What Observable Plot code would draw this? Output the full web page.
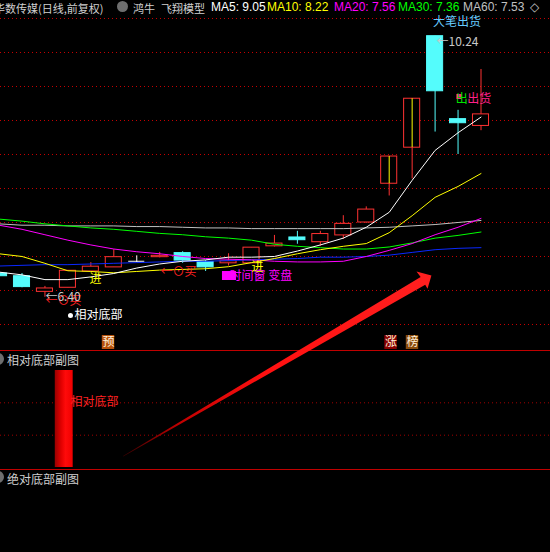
<!DOCTYPE html>
<html><head><meta charset="utf-8">
<script src="https://cdn.jsdelivr.net/npm/d3@7"></script>
<script src="https://cdn.jsdelivr.net/npm/@observablehq/plot@0.6"></script>
<style>
html,body{margin:0;padding:0;background:#000;}
body{width:550px;height:552px;overflow:hidden;position:relative;font-family:"Noto Sans CJK SC","Liberation Sans",sans-serif;}
.abs{position:absolute;white-space:nowrap;}
.hdr{top:0;height:16px;line-height:16px;font-size:11px;}
.hdrL{top:0;height:14px;line-height:14px;font-size:12px;font-family:"Liberation Sans","DejaVu Sans",sans-serif;}
.sep{left:0;width:550px;height:1px;background:#c00000;}
.lbl{font-size:12px;line-height:18px;color:#cfcfcf;}
.ico{width:12px;height:12px;border-radius:50%;background:#6e6e6e;}
</style></head><body>
<script>
// ---------- data ----------
const idx = d3.range(22);
const openP  = [6.75, 6.71, 6.48, 6.54, 6.78, 6.84, 6.93, 6.99, 7.05, 6.92, 6.90, 6.90, 7.15, 7.28, 7.21, 7.31, 7.50, 8.07, 8.60, 10.24, 9.02, 8.92];
const highP  = [6.77, 6.75, 6.56, 6.79, 6.91, 7.10, 7.01, 7.06, 7.07, 6.94, 7.04, 7.13, 7.31, 7.37, 7.37, 7.60, 7.73, 8.47, 9.32, 10.24, 9.15, 9.75];
const lowP   = [6.69, 6.54, 6.40, 6.54, 6.78, 6.84, 6.91, 6.98, 6.90, 6.78, 6.86, 6.90, 7.14, 7.18, 7.15, 7.25, 7.49, 7.89, 8.14, 8.83, 8.50, 8.85];
const closeP = [6.71, 6.55, 6.53, 6.79, 6.85, 6.99, 6.93, 7.01, 6.94, 6.84, 6.93, 7.13, 7.19, 7.24, 7.33, 7.48, 7.69, 8.47, 9.32, 9.43, 8.96, 9.09];

const ma5  = [6.77, 6.73, 6.66, 6.66, 6.70, 6.75, 6.83, 6.89, 6.93, 6.95, 6.99, 6.99, 7.00, 7.08, 7.17, 7.27, 7.43, 7.65, 8.12, 8.56, 8.82, 9.05];
const ma10 = [7.04, 7.00, 6.90, 6.79, 6.78, 6.76, 6.78, 6.80, 6.81, 6.82, 6.85, 6.91, 6.97, 7.04, 7.10, 7.15, 7.19, 7.35, 7.60, 7.87, 8.03, 8.22];
const ma20 = [7.46, 7.40, 7.32, 7.24, 7.17, 7.11, 7.07, 7.04, 7.00, 6.97, 6.96, 6.95, 6.93, 6.92, 6.92, 6.93, 7.00, 7.09, 7.19, 7.32, 7.43, 7.56];
const ma30 = [7.55, 7.52, 7.48, 7.45, 7.42, 7.40, 7.37, 7.34, 7.32, 7.29, 7.27, 7.24, 7.18, 7.15, 7.13, 7.11, 7.11, 7.14, 7.20, 7.27, 7.31, 7.36];
const ma60 = [7.48, 7.46, 7.46, 7.45, 7.45, 7.45, 7.44, 7.44, 7.43, 7.42, 7.42, 7.41, 7.41, 7.41, 7.41, 7.41, 7.42, 7.43, 7.45, 7.47, 7.50, 7.53];
const maLong = [6.86, 6.87, 6.88, 6.88, 6.89, 6.90, 6.91, 6.92, 6.93, 6.93, 6.94, 6.95, 6.96, 6.97, 6.99, 6.99, 7.00, 7.02, 7.06, 7.10, 7.12, 7.13];

const yellowIdx = [17, 18];
const gridPrices = [6.0, 6.5, 7.0, 7.5, 8.0, 8.5, 9.0, 9.5, 10.0, 10.5];

const titleText = "华数传媒(日线,前复权)";
const modelText = ["鸿牛", "飞翔模型"];
const maNames = ["MA5", "MA10", "MA20", "MA30", "MA60"];

const notes = [
  {text: "大笔出货", i: 19.95, p: 10.44, kind: "sell", anchor: "middle"},
  {text: "←10.24", i: 19.06, p: 10.147, kind: "price", anchor: "start"},
  {text: "出", i: 19.90, p: 9.32, kind: "green", anchor: "start"},
  {text: "出货", i: 20.40, p: 9.32, kind: "pink", anchor: "start"},
  {text: "←⊙买", i: 2.02, p: 6.338, kind: "buy", anchor: "start"},
  {text: "←6.40", i: 2.02, p: 6.397, kind: "price", anchor: "start"},
  {text: "进", i: 4.20, p: 6.66, kind: "in", anchor: "middle"},
  {text: "←⊙买", i: 7.035, p: 6.765, kind: "buy", anchor: "start"},
  {text: "时间窗 变盘", i: 10.04, p: 6.706, kind: "window", anchor: "start"},
  {text: "进", i: 11.26, p: 6.85, kind: "in", anchor: "middle"},
  {text: "相对底部", i: 3.29, p: 6.132, kind: "white", anchor: "start"}
];
const squares = [
  {i: 10.04, p: 6.713, hw: 0.305, hh: 0.066, kind: "window"},
  {i: 20.06, p: 9.346, hw: 0.11, hh: 0.037, kind: "pink"}
];
const dotMarks = [{i: 3.113, p: 6.132}];
const badges = [
  {label: "预", i: 4.769, kind: "pre"},
  {label: "涨", i: 17.08, kind: "up"},
  {label: "榜", i: 18.015, kind: "list"}
];
const badgePrice = 5.735;
const arrowPts = [
  {i: 5.401, p: 4.066}, {i: 18.37, p: 6.700}, {i: 18.19, p: 6.780},
  {i: 18.84, p: 6.721}, {i: 18.67, p: 6.525}, {i: 18.57, p: 6.585},
  {i: 5.41, p: 4.058}
];

const relBottomIdx = [2.84];
const relBottomVal = [100];
const subGrid = [33.3, 66.7];
const subLabels = ["相对底部副图", "绝对底部副图"];

// ---------- styles ----------
const RED = "#ff3232", CYAN = "#54fcfc";
const kindColor = {sell: "#66ccff", price: "#c8c8c8", green: "#00e000", pink: "#ff2088",
  buy: "#ff2020", in: "#ffff00", window: "#ff00ff", white: "#ffffff"};
const badgeColor = {pre: "#b8520c", up: "#8a0000", list: "#8a4b0c"};
const maColors = ["#ffffff", "#ffff00", "#ff00ff", "#00ff00", "#c0c0c0"];

const candles = idx.map(i => ({i, open: openP[i], high: highP[i], low: lowP[i], close: closeP[i]}));
const col = d => d.close > d.open ? RED : d.close < d.open ? CYAN : "#ffffff";
const maSeries = [
  {vals: maLong, color: "#0a28ff"},
  {vals: ma60, color: maColors[4]},
  {vals: ma30, color: maColors[3]},
  {vals: ma20, color: maColors[2]},
  {vals: ma10, color: maColors[1]},
  {vals: ma5, color: maColors[0]}
];

// ---------- header (HTML) ----------
function addDiv(cls, css, text) {
  const d = document.createElement("div");
  d.className = "abs " + cls;
  Object.assign(d.style, css);
  if (text != null) d.textContent = text;
  document.body.appendChild(d);
  return d;
}
addDiv("hdr", {left: "-6px", color: "#d0d0d0"}, titleText);
addDiv("ico", {left: "117px", top: "1px", width: "11px", height: "11px"});
addDiv("hdr", {left: "133px", color: "#d0d0d0"}, modelText[0]);
addDiv("hdr", {left: "161px", color: "#d0d0d0"}, modelText[1]);
const maLast = [ma5, ma10, ma20, ma30, ma60].map(a => a[a.length - 1].toFixed(2));
const maX = [211, 267, 334, 398, 463];
maNames.forEach((n, k) => addDiv("hdrL", {left: maX[k] + "px", color: maColors[k]}, `${n}: ${maLast[k]}`));
addDiv("hdrL", {left: "530px", color: "#c0c0c0"}, "◇");

// ---------- main chart ----------
const xScale = {type: "linear", domain: [0, 21], range: [-1.45, 480.5]};
const mainSvg = Plot.plot({
  width: 550, height: 336, margin: 0,
  x: {...xScale, axis: null},
  y: {type: "linear", domain: [5.6176, 10.5588], range: [336, 0], axis: null},
  style: {background: "transparent", overflow: "visible", fontFamily: '"Noto Sans CJK SC", sans-serif', fontSize: "12px"},
  marks: [
    Plot.ruleY(gridPrices, {y: d => d, stroke: "#c80000", strokeDasharray: "1 3"}),
    Plot.ruleX(candles, {x: "i", y1: "low", y2: "high", stroke: col}),
    Plot.rect(candles.filter(d => d.open !== d.close), {x1: d => d.i - 0.35, x2: d => d.i + 0.35, y1: "open", y2: "close",
      fill: d => d.close > d.open ? "#000" : CYAN, stroke: col}),
    Plot.ruleY(candles.filter(d => d.open === d.close), {y: "open", x1: d => d.i - 0.35, x2: d => d.i + 0.35, stroke: "#ffffff"}),
    Plot.ruleX(yellowIdx, {x: d => d, y1: d => openP[d], y2: d => closeP[d], stroke: "#ffff00"}),
    ...maSeries.map(s => Plot.line(idx, {x: d => d, y: d => s.vals[d], stroke: s.color, strokeWidth: 1})),
    Plot.rect(squares, {x1: d => d.i - d.hw, x2: d => d.i + d.hw, y1: d => d.p - d.hh, y2: d => d.p + d.hh, fill: d => kindColor[d.kind]}),
    Plot.rect(badges, {x1: d => d.i - 0.27, x2: d => d.i + 0.27, y1: badgePrice - 0.103, y2: badgePrice + 0.103, fill: d => badgeColor[d.kind]}),
    Plot.text(badges, {x: "i", y: badgePrice, text: "label", fill: "#fff0d8", fontSize: 12}),
    Plot.text(notes.filter(d => d.anchor === "start"), {x: "i", y: "p", text: "text", fill: d => kindColor[d.kind], textAnchor: "start", fontSize: 12}),
    Plot.text(notes.filter(d => d.anchor === "middle"), {x: "i", y: "p", text: "text", fill: d => kindColor[d.kind], textAnchor: "middle", fontSize: 12}),
    Plot.dot(dotMarks, {x: "i", y: "p", r: 2.5, fill: "#ffffff"}),
    Plot.line(arrowPts, {x: "i", y: "p", fill: "url(#arrowGrad)", stroke: "none"})
  ]
});
const defs = d3.select(mainSvg).insert("defs", ":first-child");
const ag = defs.append("linearGradient").attr("id", "arrowGrad")
  .attr("x1", 0).attr("y1", 1).attr("x2", 1).attr("y2", 0);
[[0, "#3a0000"], [0.18, "#c00000"], [0.45, "#ff1010"], [1, "#ff2020"]]
  .forEach(([o, c]) => ag.append("stop").attr("offset", o).attr("stop-color", c));
const mainBox = addDiv("", {left: "0px", top: "14px", zIndex: 3});
mainBox.appendChild(mainSvg);

// ---------- sub panel ----------
const relData = relBottomIdx.map((i, k) => ({i, v: relBottomVal[k]}));
const subSvg = Plot.plot({
  width: 550, height: 119, margin: 0,
  x: {...xScale, axis: null},
  y: {type: "linear", domain: [0, 100], range: [117, 20], axis: null},
  style: {background: "transparent", overflow: "visible", fontFamily: '"Noto Sans CJK SC", sans-serif', fontSize: "12px"},
  marks: [
    Plot.ruleY(subGrid, {y: d => d, stroke: "#a00000", strokeDasharray: "1 3"}),
    Plot.rect(relData, {x1: d => d.i - 0.39, x2: d => d.i + 0.39, y1: 0, y2: "v", fill: "url(#barGrad)"}),
    Plot.text(relData, {x: d => d.i + 0.27, y: d => d.v * 0.67, text: () => "相对底部", fill: "#ff2020", textAnchor: "start", fontSize: 12})
  ]
});
const bg = d3.select(subSvg).insert("defs", ":first-child").append("linearGradient").attr("id", "barGrad")
  .attr("x1", 0).attr("y1", 0).attr("x2", 1).attr("y2", 0);
[[0, "#9a0000"], [0.35, "#e00000"], [0.6, "#ff0a0a"], [1, "#f00000"]]
  .forEach(([o, c]) => bg.append("stop").attr("offset", o).attr("stop-color", c));
const subBox = addDiv("", {left: "0px", top: "350px", zIndex: 1});
subBox.appendChild(subSvg);

// panel frames and labels
addDiv("sep", {top: "350px", zIndex: 2});
addDiv("sep", {top: "469px", zIndex: 2});
addDiv("ico", {left: "-8px", top: "353px"});
addDiv("lbl", {left: "7px", top: "351px"}, subLabels[0]);
addDiv("ico", {left: "-8px", top: "471px"});
addDiv("lbl", {left: "7px", top: "470px"}, subLabels[1]);
</script>
</body></html>
